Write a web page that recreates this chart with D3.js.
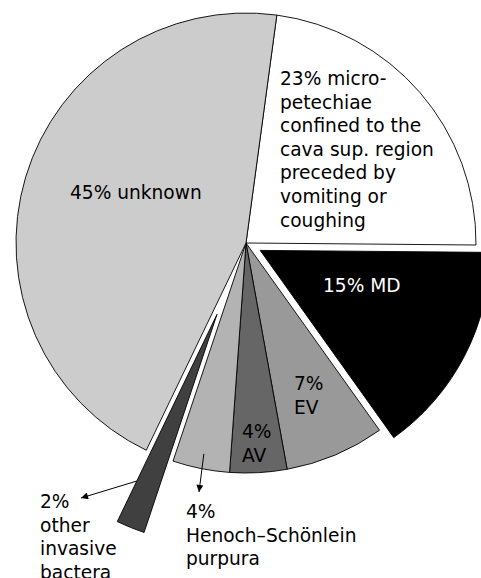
<!DOCTYPE html>
<html>
<head>
<meta charset="utf-8">
<script src="https://cdn.jsdelivr.net/npm/d3@7"></script>
<style>
  html, body { margin: 0; padding: 0; background: #fff; }
  svg { display: block; }
  text { font-family: "DejaVu Sans", "Liberation Sans", sans-serif; font-size: 18.6px; }
</style>
</head>
<body>
<div id="chart"></div>
<script>
const categories = ["micro-petechiae", "MD", "EV", "AV", "Henoch–Schönlein purpura", "other invasive bacteria", "unknown"];
const values = [23, 15, 7, 4, 4, 2, 45];
const labelLines = [
  ["23% micro-", "petechiae", "confined to the", "cava sup. region", "preceded by", "vomiting or", "coughing"],
  ["15% MD"],
  ["7%", "EV"],
  ["4%", "AV"],
  ["4%", "Henoch–Schönlein", "purpura"],
  ["2%", "other", "invasive", "bactera"],
  ["45% unknown"]
];
const fills = ["#ffffff", "#000000", "#999999", "#666666", "#b3b3b3", "#404040", "#cccccc"];
const textFills = ["#000", "#fff", "#000", "#000", "#000", "#000", "#000"];

var width = 481,
  height = 578;
var cx = 246, cy = 243, radius = 230;
var lineH = 23.6;

// explode distance and label anchors per slice
var explode = [0, 16, 0, 0, 0, 77, 0];
var labelPos = [[280, 85], [323, 292], [294, 390], [242, 438], [186, 518], [40, 508], [70, 199]];

var svg = d3.select('#chart').append('svg')
  .attr("width", width)
  .attr("height", height);

svg.append("defs").append("marker")
  .attr("id", "arrow")
  .attr("viewBox", "0 0 10 10")
  .attr("refX", 10).attr("refY", 5)
  .attr("markerWidth", 9).attr("markerHeight", 7)
  .attr("markerUnits", "userSpaceOnUse")
  .attr("orient", "auto")
  .append("path")
  .attr("d", "M0,0L10,5L0,10Z")
  .attr("fill", "#000");

var start = 7.7 * Math.PI / 180;
var pie = d3.pie().sort(null).startAngle(start).endAngle(start + 2 * Math.PI);
var arcs = pie(values);
var arc = d3.arc().innerRadius(0).outerRadius(radius);

function offset(d, i) {
  var a = (d.startAngle + d.endAngle) / 2;
  return [explode[i] * Math.sin(a), -explode[i] * Math.cos(a)];
}

var g = svg.append("g").attr("transform", "translate(" + cx + "," + cy + ")");

g.selectAll("path.slice")
  .data(arcs)
  .enter().append("path")
  .attr("class", "slice")
  .attr("transform", function(d, i) { var o = offset(d, i); return "translate(" + o[0] + "," + o[1] + ")"; })
  .attr("d", arc)
  .attr("fill", function(d, i) { return fills[i]; })
  .attr("stroke", "#000")
  .attr("stroke-width", 0.9)
  .attr("stroke-linejoin", "round");

// labels
labelLines.forEach(function(lines, i) {
  var t = svg.append("text")
    .attr("x", labelPos[i][0])
    .attr("y", labelPos[i][1])
    .attr("fill", textFills[i]);
  lines.forEach(function(s, k) {
    t.append("tspan")
      .attr("x", labelPos[i][0])
      .attr("y", labelPos[i][1] + k * lineH)
      .text(s);
  });
});

// pointer arrows for the two outside labels
function pointAt(d, i, angle, r) {
  var o = offset(d, i);
  return [cx + o[0] + r * Math.sin(angle), cy + o[1] - r * Math.cos(angle)];
}
var hsp = 4, oth = 5;
var arrows = [
  [pointAt(arcs[hsp], hsp, (arcs[hsp].startAngle + arcs[hsp].endAngle) / 2, 215), [labelPos[hsp][0] + 13, labelPos[hsp][1] - 26]],
  [pointAt(arcs[oth], oth, arcs[oth].endAngle, 185), [labelPos[oth][0] + 41, labelPos[oth][1] - 10]]
];
svg.selectAll("line.pointer")
  .data(arrows)
  .enter().append("line")
  .attr("class", "pointer")
  .attr("x1", function(d) { return d[0][0]; })
  .attr("y1", function(d) { return d[0][1]; })
  .attr("x2", function(d) { return d[1][0]; })
  .attr("y2", function(d) { return d[1][1]; })
  .attr("stroke", "#000")
  .attr("stroke-width", 1)
  .attr("marker-end", "url(#arrow)");
</script>
</body>
</html>
